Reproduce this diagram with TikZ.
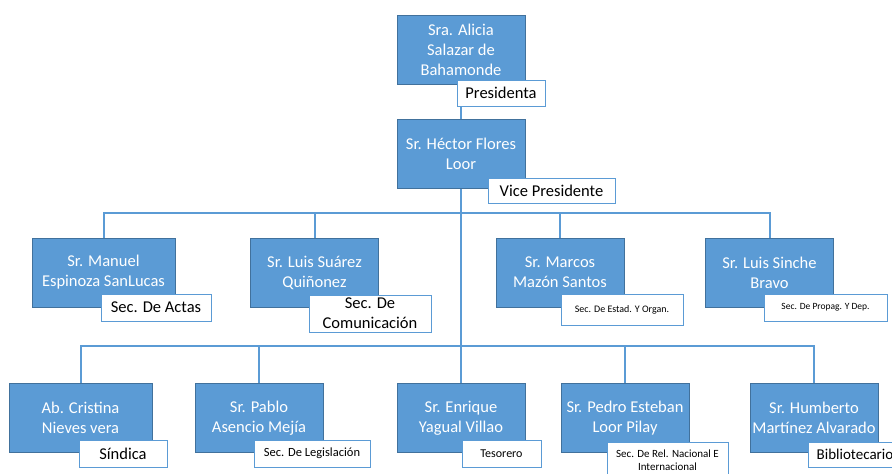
\documentclass[tikz,border=0pt]{standalone}
\usepackage{fontspec}
\setmainfont{Carlito}
\usetikzlibrary{backgrounds,positioning}
\definecolor{boxblue}{HTML}{5B9BD5}
\definecolor{boxedge}{HTML}{41719C}

\begin{document}
\begin{tikzpicture}[x=1pt, y=-1pt,
    person/.style={draw=boxedge, fill=boxblue, text=white, minimum width=128pt,
        minimum height=69pt, inner sep=0pt, align=center,
        font=\fontsize{16.5}{20}\selectfont},
    role/.style={draw=boxblue, line width=1pt, fill=white, inner sep=0pt,
        minimum height=26pt, align=center, font=\fontsize{16.5}{20}\selectfont},
    smallrole/.style={role, font=\fontsize{10}{12}\selectfont},
    link/.style={draw=boxblue, line width=2pt}]
        \useasboundingbox (0,0) rectangle (892,474);

        % Presidencia
        \node[person] (alicia) at (461,49.5) {Sra. Alicia\\Salazar de\\Bahamonde};
        \node[role, minimum width=88pt] (presidenta) at (501,93) {Presidenta};

        % Vicepresidencia
        \node[person] (hector) at (461,154) {Sr. Héctor Flores\\Loor};
        \node[role, minimum width=127pt, minimum height=25pt] (vice) at (551.5,190.5) {Vice Presidente};

        % Secretarios
        \node[person, minimum width=143pt] (manuel) at (103.5,272.5) {Sr. Manuel\\Espinoza SanLucas};
        \node[role, minimum width=110pt, minimum height=27pt] (actas) at (156,307.5) {Sec. De Actas};

        \node[person] (suarez) at (314.5,272.5) {Sr. Luis Suárez\\Quiñonez};
        \node[role, minimum width=122pt, minimum height=37pt] (comunic) at (370,313.5) {Sec. De\\Comunicación};

        \node[person] (marcos) at (560,272.5) {Sr. Marcos\\Mazón Santos};
        \node[smallrole, minimum width=122pt, minimum height=31pt] (estad) at (622,309.5) {Sec. De Estad. Y Organ.};

        \node[person] (sinche) at (769.5,272.5) {Sr. Luis Sinche\\Bravo};
        \node[smallrole, font=\fontsize{9.5}{12}\selectfont, minimum width=123pt, minimum height=27pt] (propag) at (825.5,307.5) {Sec. De Propag. Y Dep.};

        % Vocales
        \node[person, minimum width=143pt] (cristina) at (80.5,418) {Ab. Cristina\\Nieves vera};
        \node[role, minimum width=88pt, minimum height=27pt] (sindica) at (123,453.5) {Síndica};

        \node[person] (pablo) at (259,418) {Sr. Pablo\\Asencio Mejía};
        \node[smallrole, font=\fontsize{12.5}{14}\selectfont, minimum width=116pt, minimum height=27pt] (legis) at (312,453.5) {Sec. De Legislación};

        \node[person] (enrique) at (461,418) {Sr. Enrique\\Yagual Villao};
        \node[smallrole, font=\fontsize{12}{14}\selectfont, minimum width=79pt, minimum height=27pt] (tesorero) at (501.5,453.5) {Tesorero};

        \node[person] (pedro) at (625,418) {Sr. Pedro Esteban\\Loor Pilay};
        \node[smallrole, font=\fontsize{11}{12.5}\selectfont, minimum width=121pt, minimum height=36pt] (relnac) at (667.5,460) {Sec. De Rel. Nacional E\\Internacional};

        \node[person] (humberto) at (814,418) {Sr. Humberto\\Martínez Alvarado};
        \node[role, font=\fontsize{15}{18}\selectfont, minimum width=94pt, minimum height=25pt] (biblio) at (855,454.5) {Bibliotecario};

        % Lineas de mando
        \coordinate (bus2) at (461,213);
        \coordinate (bus3) at (461,346);
        \begin{scope}[on background layer]
            \draw[link] (alicia) -- (hector);
            \draw[link] (hector) -- (enrique);
            \draw[link] (manuel.north) |- (bus2) -| (sinche.north);
            \foreach \n in {suarez, marcos}
                \draw[link] (\n.north) -- (\n.north |- bus2);
            \draw[link] (cristina.north) |- (bus3) -| (humberto.north);
            \foreach \n in {pablo, pedro}
                \draw[link] (\n.north) -- (\n.north |- bus3);
        \end{scope}
    \end{tikzpicture}
\end{document}
